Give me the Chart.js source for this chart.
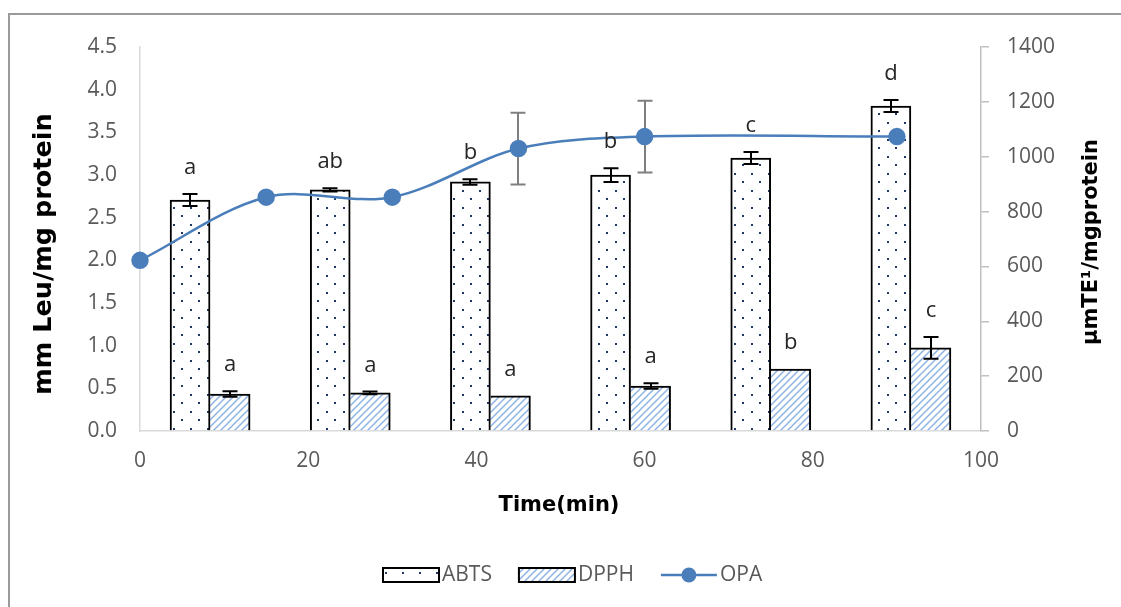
<!DOCTYPE html>
<html lang="en">
<head>
<meta charset="UTF-8">
<title>ABTS, DPPH and OPA during hydrolysis</title>
<script src="https://cdn.jsdelivr.net/npm/chart.js"></script>
<style>
  body { margin: 0; background: #fff; }
  canvas { display: block; }
</style>
</head>
<body>
<canvas id="chart" width="1121" height="607"></canvas>
<script>
// bar groups (one slot each on a hidden axis), antioxidant activity in µmol TE/mg protein
const groups = ['1', '2', '3', '4', '5', '6'];
const abts = [842, 879, 908, 933, 995, 1185];
const abtsErr = [22, 6, 10, 25, 22, 22];
const abtsLetters = ['a', 'ab', 'b', 'b', 'c', 'd'];
const dpph = [135, 139, 128, 164, 226, 303];
const dpphErr = [10, 5, 0, 10, 0, 40];
const dpphLetters = ['a', 'a', 'a', 'a', 'b', 'c'];

// OPA, mm Leu/mg protein vs time (min)
const opaTime = [0, 15, 30, 45, 60, 90];
const opa = [2.0, 2.74, 2.74, 3.31, 3.45, 3.45];
const opaErr = [0, 0, 0, 0.42, 0.42, 0];

const tickFont = { family: 'Open Sans', size: 21 };
const tickColor = '#595959';
const barWidth = 40;
// half a bar, as a fraction of one group slot (plot is 840px / 6 groups)
const barShift = (barWidth / 2) / (840 / groups.length);

function dotPattern() {
  const c = document.createElement('canvas');
  c.width = 17; c.height = 17;
  const g = c.getContext('2d');
  g.fillStyle = '#fff';
  g.fillRect(0, 0, 17, 17);
  g.fillStyle = '#1f3864';
  g.fillRect(3, 3, 2, 2);
  g.fillRect(11, 11, 2, 2);
  return g.createPattern(c, 'repeat');
}

function hatchPattern() {
  const s = 7;
  const c = document.createElement('canvas');
  c.width = s; c.height = s;
  const g = c.getContext('2d');
  g.fillStyle = '#fff';
  g.fillRect(0, 0, s, s);
  g.strokeStyle = '#8eb4e3';
  g.lineWidth = 1.5;
  g.beginPath();
  g.moveTo(0, s); g.lineTo(s, 0);
  g.moveTo(-1, 1); g.lineTo(1, -1);
  g.moveTo(s - 1, s + 1); g.lineTo(s + 1, s - 1);
  g.stroke();
  return g.createPattern(c, 'repeat');
}

const yOf = raw => (typeof raw === 'object' ? raw.y : raw);

function drawErrors(chart, index) {
  const ds = chart.data.datasets[index];
  if (!ds.errors) return;
  const meta = chart.getDatasetMeta(index);
  const yScale = chart.scales[ds.yAxisID];
  const ctx = chart.ctx;
  ctx.save();
  ctx.strokeStyle = ds.errorColor;
  ctx.lineWidth = 2;
  meta.data.forEach((el, j) => {
    const e = ds.errors[j];
    if (!e) return;
    const v = yOf(ds.data[j]);
    const top = yScale.getPixelForValue(v + e);
    const bot = yScale.getPixelForValue(v - e);
    const x = Math.round(el.x);
    ctx.beginPath();
    ctx.moveTo(x, top); ctx.lineTo(x, bot);
    ctx.moveTo(x - 7.5, top); ctx.lineTo(x + 7.5, top);
    ctx.moveTo(x - 7.5, bot); ctx.lineTo(x + 7.5, bot);
    ctx.stroke();
  });
  ctx.restore();
}

const errorBars = {
  id: 'errorBars',
  beforeDatasetDraw(chart, args) {
    if (chart.data.datasets[args.index].type === 'line') drawErrors(chart, args.index);
  },
  afterDatasetDraw(chart, args) {
    if (chart.data.datasets[args.index].type === 'bar') drawErrors(chart, args.index);
  },
  afterDatasetsDraw(chart) {
    const ctx = chart.ctx;
    ctx.save();
    ctx.font = '22px "Open Sans"';
    ctx.fillStyle = '#262626';
    ctx.textAlign = 'center';
    ctx.textBaseline = 'alphabetic';
    chart.data.datasets.forEach((ds, i) => {
      if (!ds.letters) return;
      const meta = chart.getDatasetMeta(i);
      const yScale = chart.scales[ds.yAxisID];
      meta.data.forEach((el, j) => {
        const y = yScale.getPixelForValue(yOf(ds.data[j]) + (ds.errors[j] || 0)) - 20;
        ctx.fillText(ds.letters[j], el.x, y);
      });
    });
    ctx.restore();
  }
};

const frame = {
  id: 'frame',
  beforeDraw(chart) {
    const ctx = chart.ctx;
    ctx.save();
    ctx.fillStyle = '#fff';
    ctx.fillRect(0, 0, chart.width, chart.height);
    ctx.strokeStyle = '#9a9a9a';
    ctx.lineWidth = 2;
    ctx.strokeRect(9, 14, 1300, 800);
    ctx.restore();
  },
  afterDraw(chart) {
    const ctx = chart.ctx;
    ctx.save();
    ctx.fillStyle = '#000';
    ctx.textAlign = 'center';
    ctx.textBaseline = 'middle';
    // axis titles
    ctx.font = 'bold 25.5px "DejaVu Sans"';
    ctx.save();
    ctx.translate(44, 254);
    ctx.rotate(-Math.PI / 2);
    ctx.fillText('mm Leu/mg protein', 0, 0);
    ctx.restore();
    ctx.font = 'bold 21px "DejaVu Sans"';
    ctx.save();
    ctx.translate(1092, 242);
    ctx.rotate(-Math.PI / 2);
    ctx.fillText('μmTE¹/mgprotein', 0, 0);
    ctx.restore();
    ctx.fillText('Time(min)', 559, 506);

    // legend
    let x = 383;
    const y = 575;
    ctx.font = '21px "Open Sans"';
    ctx.textAlign = 'left';
    chart.data.datasets.forEach(ds => {
      if (ds.type === 'bar') {
        ctx.fillStyle = ds.backgroundColor;
        ctx.fillRect(x, y - 7, 56, 14);
        ctx.strokeStyle = '#000';
        ctx.lineWidth = 2;
        ctx.strokeRect(x, y - 7, 56, 14);
      } else {
        ctx.strokeStyle = ds.borderColor;
        ctx.lineWidth = ds.borderWidth;
        ctx.beginPath();
        ctx.moveTo(x, y); ctx.lineTo(x + 56, y);
        ctx.stroke();
        ctx.fillStyle = ds.backgroundColor;
        ctx.beginPath();
        ctx.arc(x + 28, y, ds.pointRadius, 0, Math.PI * 2);
        ctx.fill();
      }
      ctx.fillStyle = tickColor;
      ctx.fillText(ds.label, x + 59, y);
      x += 59 + ctx.measureText(ds.label).width + 27;
    });
    ctx.restore();
  }
};

// slot axis for the bars: laid out with the plot but draws nothing;
// group i sits in the middle of slot i, moved by half a bar
const slotAxis = shift => ({
  type: 'linear', position: 'bottom', offset: false,
  min: -0.5 + shift, max: groups.length - 0.5 + shift,
  ticks: { display: false },
  grid: { display: false, drawTicks: false, offset: false },
  border: { display: false },
  afterFit: s => { s.height = 0; }
});

new Chart(document.getElementById('chart'), {
  data: {
    datasets: [
      {
        type: 'bar', label: 'ABTS', xAxisID: 'xa', yAxisID: 'y1',
        data: abts.map((v, i) => ({ x: i, y: v })),
        backgroundColor: dotPattern(), borderColor: '#000',
        borderWidth: { top: 2, left: 2, right: 2, bottom: 0 },
        grouped: false, barThickness: barWidth, order: 1,
        errors: abtsErr, errorColor: '#000', letters: abtsLetters
      },
      {
        type: 'bar', label: 'DPPH', xAxisID: 'xb', yAxisID: 'y1',
        data: dpph.map((v, i) => ({ x: i, y: v })),
        backgroundColor: hatchPattern(), borderColor: '#000',
        borderWidth: { top: 2, left: 0, right: 2, bottom: 0 },
        grouped: false, barThickness: barWidth, order: 1,
        errors: dpphErr, errorColor: '#000', letters: dpphLetters
      },
      {
        type: 'line', label: 'OPA', xAxisID: 'x2', yAxisID: 'y',
        data: opaTime.map((t, i) => ({ x: t, y: opa[i] })),
        borderColor: '#4a7ebb', backgroundColor: '#4a7ebb', borderWidth: 2.5,
        pointRadius: 7.5, pointHoverRadius: 7.5, tension: 0.33, clip: false, order: 0,
        errors: opaErr, errorColor: '#7f7f7f'
      }
    ]
  },
  options: {
    responsive: false,
    animation: false,
    layout: { padding: { top: 47 } },
    plugins: { legend: { display: false }, tooltip: { enabled: false } },
    scales: {
      xa: slotAxis(barShift),
      xb: slotAxis(-barShift),
      x2: {
        type: 'linear', position: 'bottom', min: 0, max: 100, offset: false,
        ticks: { stepSize: 20, padding: 17, color: tickColor, font: tickFont },
        grid: { display: false, drawTicks: false },
        border: { color: '#d9d9d9', width: 1.5 },
        afterFit: s => { s.height = 176; }
      },
      y: {
        position: 'left', min: 0, max: 4.5,
        ticks: { stepSize: 0.5, padding: 23, color: tickColor, font: tickFont, callback: v => v.toFixed(1) },
        grid: { display: false, drawTicks: false },
        border: { color: '#d9d9d9', width: 1.5 },
        afterFit: s => { s.width = 140; }
      },
      y1: {
        position: 'right', min: 0, max: 1400,
        ticks: { stepSize: 200, padding: 18, color: tickColor, font: tickFont, callback: v => String(v) },
        grid: { drawOnChartArea: false, drawTicks: true, tickLength: 8, color: '#bfbfbf', lineWidth: 1.5 },
        border: { color: '#bfbfbf', width: 1.5 },
        afterFit: s => { s.width = 140; }
      }
    }
  },
  plugins: [frame, errorBars]
});
</script>
</body>
</html>
